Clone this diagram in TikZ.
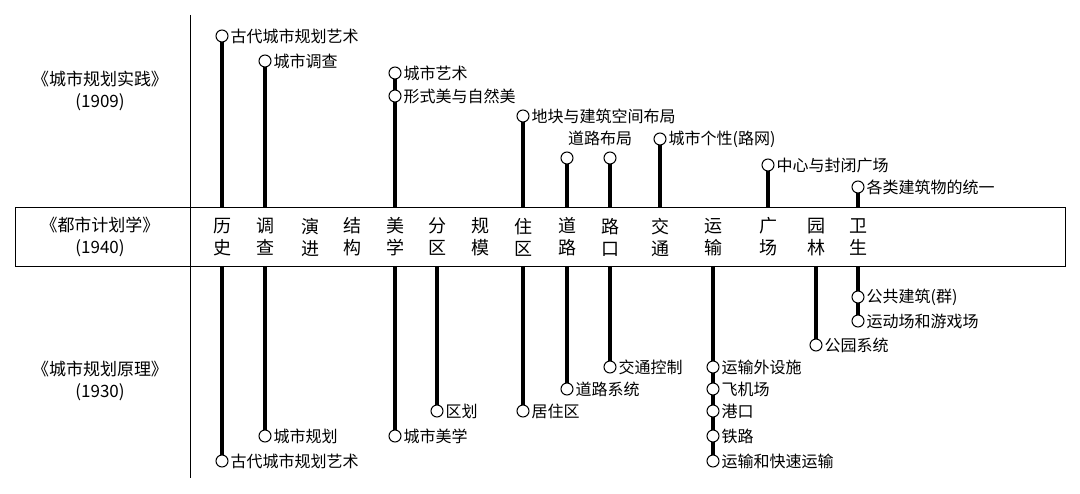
\documentclass[tikz,border=0pt]{standalone}
\usepackage{fontspec}
\setmainfont{Noto Sans CJK SC}
\begin{document}
\begin{tikzpicture}[x=1pt,y=-1pt,
  dot/.style={circle,draw,fill=white,line width=1pt,inner sep=0pt,minimum size=12pt},
  bar/.style={line width=3.5pt},
  lab/.style={anchor=west,font=\fontsize{16}{16}\selectfont,inner sep=1pt},
  col/.style={font=\fontsize{18}{22}\selectfont,align=center,inner sep=0pt},
  book/.style={font=\fontsize{17}{22}\selectfont,align=center}]
\useasboundingbox (0,0) rectangle (1080,494);
\draw[line width=1pt] (190,15) -- (190,478);
\node[draw,line width=1pt,minimum width=1050pt,minimum height=59pt,anchor=north west,inner sep=0pt] (band) at (15,207) {};
\node[book] (b1) at (100,91) {《城市规划实践》\\(1909)};
\node[book] (b2) at (100,237) {《都市计划学》\\(1940)};
\node[book] (b3) at (100,381) {《城市规划原理》\\(1930)};
\foreach \x/\a/\b in {222/历/史,265/调/查,310/演/进,352/结/构,395/美/学,437/分/区,480/规/模,523/住/区,567/道/路,610/路/口,660/交/通,713/运/输,768/广/场,816/园/林,858/卫/生}
  \node[col] at (\x,237) {\a\\\b};
% top
\foreach \x/\y in {222/36,265/61,395/73,523/116,567/158,610/158,660/139,768/165,858/187}
  \draw[bar] (\x,207) -- (\x,\y);
\foreach \x/\y in {222/461,265/436,395/436,437/411,523/411,567/389,610/367,713/461,816/345,858/321}
  \draw[bar] (\x,266) -- (\x,\y);
\foreach \x/\y/\t in {222/36/古代城市规划艺术,265/61/城市调查,395/73/城市艺术,395/96/形式美与自然美,523/116/地块与建筑空间布局,660/139/城市个性(路网),768/165/中心与封闭广场,858/187/各类建筑物的统一,
 222/461/古代城市规划艺术,265/436/城市规划,395/436/城市美学,437/411/区划,523/411/居住区,567/389/道路系统,610/367/交通控制,713/367/运输外设施,713/389/飞机场,713/411/港口,713/436/铁路,713/461/运输和快速运输,816/345/公园系统,858/297/公共建筑(群),858/321/运动场和游戏场}
 {\node[dot] (d) at (\x,\y) {}; \node[lab] at ([xshift=1pt]d.east) {\t};}
\node[dot] at (567,158) {};\node[dot] at (610,158) {};
\node[font=\fontsize{16}{16}\selectfont] at (600,138) {道路布局};
\end{tikzpicture}
\end{document}
